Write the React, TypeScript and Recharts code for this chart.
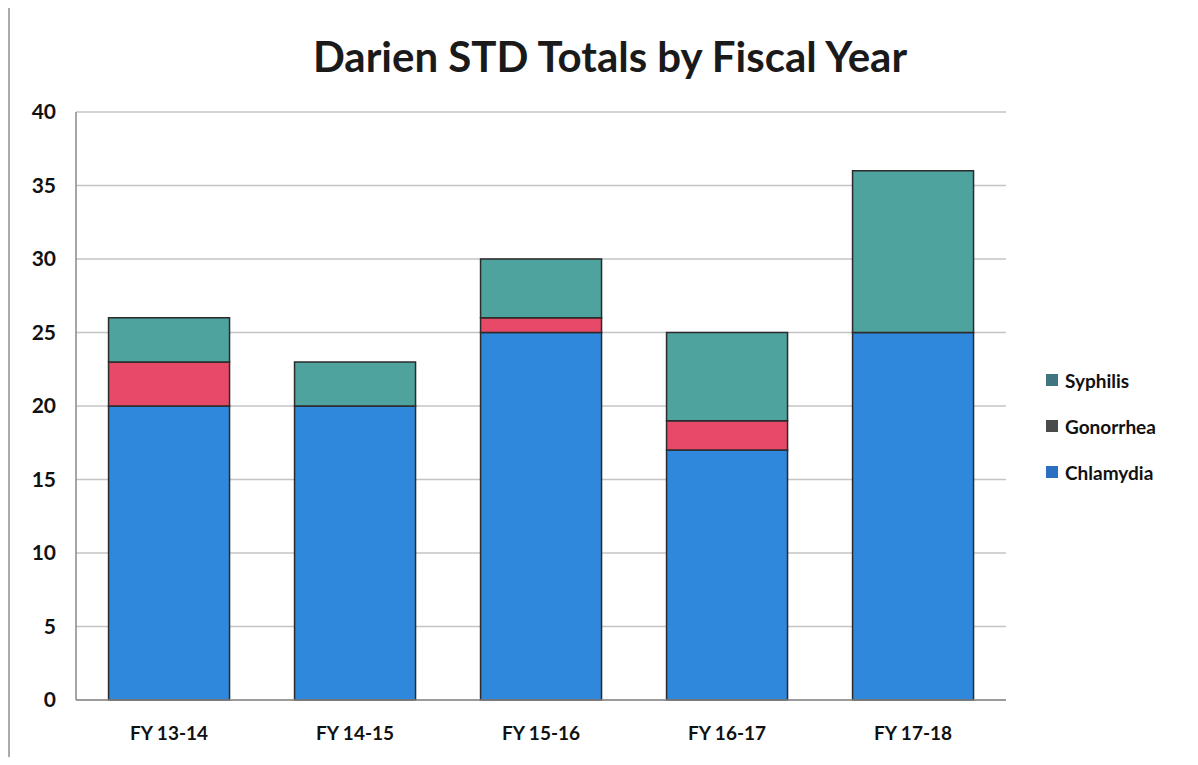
import React from "react"
import { BarChart, Bar, XAxis, YAxis, CartesianGrid } from "recharts"

const years = ["FY 13-14", "FY 14-15", "FY 15-16", "FY 16-17", "FY 17-18"]
const chlamydia = [20, 20, 25, 17, 25]
const gonorrhea = [3, 0, 1, 2, 0]
const syphilis = [3, 3, 4, 6, 11]
const yTicks = [0, 5, 10, 15, 20, 25, 30, 35, 40]

const series = [
  { key: "Chlamydia", color: "#2f88dc", marker: "#2a6fc0" },
  { key: "Gonorrhea", color: "#e64a68", marker: "#4a4a4a" },
  { key: "Syphilis", color: "#4fa39e", marker: "#3f7480" },
]

const data = years.map((year, i) => ({
  year,
  Chlamydia: chlamydia[i],
  Gonorrhea: gonorrhea[i],
  Syphilis: syphilis[i],
}))

const FONT = "Lato, 'Open Sans', sans-serif"

function LegendBox() {
  // reversed so the top series is listed first, like the original
  return (
    <div
      style={{
        position: "absolute",
        left: 1046,
        top: 357,
        fontFamily: FONT,
        fontWeight: 700,
        fontSize: 19,
        color: "#111",
      }}
    >
      {[...series].reverse().map((s) => (
        <div key={s.key} style={{ display: "flex", alignItems: "center", height: 46 }}>
          <span style={{ width: 12, height: 12, background: s.marker, marginRight: 7, display: "inline-block" }} />
          {s.key}
        </div>
      ))}
    </div>
  )
}

export default function App() {
  return (
    <div style={{ position: "relative", width: 1198, height: 765, margin: -8, background: "#fff" }}>
      <div
        style={{
          position: "absolute",
          left: 8,
          top: 3,
          width: 1186,
          height: 756,
          borderLeft: "2px solid #aaa",
          borderTop: "1px solid #ccc",
          borderBottom: "1px solid #ccc",
        }}
      />
      <div
        style={{
          position: "absolute",
          top: 31,
          left: 0,
          width: 1220,
          textAlign: "center",
          fontFamily: FONT,
          fontWeight: 700,
          fontSize: 42,
          color: "#1a1a1a",
        }}
      >
        Darien STD Totals by Fiscal Year
      </div>
      <BarChart
        width={1198}
        height={765}
        data={data}
        margin={{ top: 112, right: 192, bottom: 0, left: 0 }}
        barCategoryGap="17.5%"
      >
        <CartesianGrid vertical={false} stroke="#c4c4c4" strokeWidth={1.5} />
        <XAxis
          dataKey="year"
          height={65}
          tickLine={false}
          axisLine={{ stroke: "#888", strokeWidth: 1.5 }}
          tick={{ fontFamily: FONT, fontWeight: 700, fontSize: 19, fill: "#111" }}
          tickMargin={27}
          tickSize={0}
        />
        <YAxis
          width={76}
          domain={[0, 40]}
          ticks={yTicks}
          tickLine={false}
          axisLine={{ stroke: "#888", strokeWidth: 1.5 }}
          tick={{ fontFamily: FONT, fontWeight: 700, fontSize: 21, fill: "#111" }}
          tickSize={0}
          tickMargin={20}
        />
        {series.map((s) => (
          <Bar
            key={s.key}
            dataKey={s.key}
            stackId="a"
            fill={s.color}
            stroke="#2b2b2b"
            strokeWidth={1.5}
            isAnimationActive={false}
          />
        ))}
      </BarChart>
      <LegendBox />
    </div>
  )
}
